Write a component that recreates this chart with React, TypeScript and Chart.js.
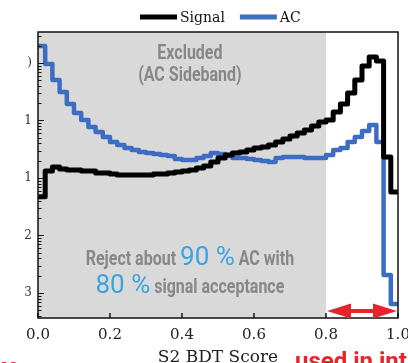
import React, { useEffect, useRef } from "react";
import { Chart, registerables } from "chart.js";

Chart.register(...registerables);

// 50 bins of width 0.02 on the BDT score
const binEdges = Array.from({ length: 51 }, (_, i) => i / 50);

const signalCounts = [
  0.0047, 0.0132, 0.0155, 0.0143, 0.0138, 0.0138, 0.0132, 0.0132, 0.0122, 0.0122,
  0.0117, 0.0113, 0.0113, 0.0113, 0.0113, 0.0113, 0.0117, 0.0117, 0.0122, 0.0127,
  0.0132, 0.0138, 0.0149, 0.0162, 0.019, 0.0223, 0.0251, 0.0272, 0.0283, 0.0307,
  0.0333, 0.0346, 0.0375, 0.0423, 0.0477, 0.0537, 0.0606, 0.0684, 0.0802, 0.0942,
  0.102, 0.141, 0.194, 0.301, 0.506, 0.887, 1.27, 1.08, 0.0232, 0.0057,
];

const acCounts = [
  1.98, 0.961, 0.506, 0.313, 0.194, 0.135, 0.102, 0.0771, 0.0631, 0.0516,
  0.0423, 0.0375, 0.0333, 0.0307, 0.0283, 0.0272, 0.0261, 0.0251, 0.0241, 0.0214,
  0.0206, 0.0206, 0.0223, 0.0241, 0.0272, 0.0261, 0.0241, 0.0223, 0.0223, 0.0214,
  0.0206, 0.0198, 0.019, 0.0223, 0.0232, 0.0232, 0.0232, 0.0223, 0.0223, 0.0223,
  0.0251, 0.0307, 0.0333, 0.0423, 0.0516, 0.0657, 0.0835, 0.0423, 0.000206, 0.0000644,
];

const seriesNames = ["Signal", "AC"];
const seriesColors = ["#000000", "#3d6dc2"];

const xTickValues = [0, 0.2, 0.4, 0.6, 0.8, 1.0];
const yTickValues = [1, 0.1, 0.01, 0.001, 0.0001];
const yTickLabels = [")", "1", "1", "2", "3"];

const sidebandRange = [0, 0.8];
const selectedRange = [0.8, 1.0];

const GREY_TEXT = "#878787";
const BLUE_TEXT = "#3aa3e0";
const RED = "#e4262c";

function histPoints(values: number[]) {
  const pts = values.map((v, i) => ({ x: binEdges[i], y: v }));
  pts.push({ x: binEdges[values.length], y: values[values.length - 1] });
  return pts;
}

type Run = { text: string; font: string; color: string; sx: number };

function runsWidth(ctx: CanvasRenderingContext2D, runs: Run[]) {
  let w = 0;
  for (const r of runs) {
    ctx.font = r.font;
    w += ctx.measureText(r.text).width * r.sx;
  }
  return w;
}

function drawRunsCentered(ctx: CanvasRenderingContext2D, runs: Run[], cx: number, baseline: number) {
  let x = cx - runsWidth(ctx, runs) / 2;
  ctx.textAlign = "left";
  ctx.textBaseline = "alphabetic";
  for (const r of runs) {
    ctx.font = r.font;
    ctx.fillStyle = r.color;
    const w = ctx.measureText(r.text).width * r.sx;
    ctx.save();
    ctx.translate(x, baseline);
    ctx.scale(r.sx, 1);
    ctx.fillText(r.text, 0, 0);
    ctx.restore();
    x += w;
  }
}

const greyFont = "bold 20px Roboto";
const blueFont = "400 26px Roboto";
const cond = 0.8;

const decorPlugin = {
  id: "decor",
  beforeDatasetsDraw(chart: any) {
    const { ctx, chartArea: a, scales } = chart;
    const x0 = scales.x.getPixelForValue(sidebandRange[0]);
    const x1 = scales.x.getPixelForValue(sidebandRange[1]);
    ctx.save();
    ctx.fillStyle = "#d9d9d9";
    ctx.fillRect(x0, a.top, x1 - x0, a.bottom - a.top);
    ctx.restore();
  },
  afterDatasetsDraw(chart: any) {
    const { ctx, scales } = chart;
    const cx = scales.x.getPixelForValue(0.422);
    ctx.save();
    drawRunsCentered(ctx, [{ text: "Excluded", font: greyFont, color: GREY_TEXT, sx: cond }], cx, 59);
    drawRunsCentered(ctx, [{ text: "(AC Sideband)", font: greyFont, color: GREY_TEXT, sx: cond }], cx, 81);
    drawRunsCentered(
      ctx,
      [
        { text: "Reject about ", font: greyFont, color: GREY_TEXT, sx: cond },
        { text: "90 %", font: blueFont, color: BLUE_TEXT, sx: 1 },
        { text: " AC with", font: greyFont, color: GREY_TEXT, sx: cond },
      ],
      cx,
      265
    );
    drawRunsCentered(
      ctx,
      [
        { text: "80 %", font: blueFont, color: BLUE_TEXT, sx: 1 },
        { text: " signal acceptance", font: greyFont, color: GREY_TEXT, sx: cond },
      ],
      cx,
      293
    );
    ctx.restore();
  },
  afterDraw(chart: any) {
    const { ctx, chartArea: a, scales } = chart;
    const { x, y } = scales;
    ctx.save();

    // frame
    ctx.strokeStyle = "#111";
    ctx.lineWidth = 1.5;
    ctx.strokeRect(a.left, a.top, a.right - a.left, a.bottom - a.top);

    // inward tick marks on the log axis (majors + minors)
    ctx.lineWidth = 1;
    ctx.strokeStyle = "#111";
    for (let d = -5; d <= 0; d++) {
      for (let m = 1; m <= 9; m++) {
        const v = m * Math.pow(10, d);
        if (v < y.min || v > y.max) continue;
        const py = Math.round(y.getPixelForValue(v)) + 0.5;
        const len = m === 1 ? 6 : 3.5;
        ctx.beginPath();
        ctx.moveTo(a.left, py);
        ctx.lineTo(a.left + len, py);
        ctx.stroke();
      }
    }
    // inward ticks on the score axis
    ctx.lineWidth = 1.5;
    for (const v of xTickValues) {
      const px = x.getPixelForValue(v);
      ctx.beginPath();
      ctx.moveTo(px, a.bottom);
      ctx.lineTo(px, a.bottom - 5);
      ctx.stroke();
    }

    // double-headed arrow over the selected region
    const xa = x.getPixelForValue(selectedRange[0]) + 1;
    const xb = x.getPixelForValue(selectedRange[1]) - 1;
    const ay = 311;
    const head = 24;
    const hh = 7.5;
    ctx.fillStyle = RED;
    ctx.fillRect(xa + head - 2, ay - 2, xb - xa - 2 * head + 4, 4);
    ctx.beginPath();
    ctx.moveTo(xa, ay);
    ctx.lineTo(xa + head, ay - hh);
    ctx.lineTo(xa + head, ay + hh);
    ctx.closePath();
    ctx.fill();
    ctx.beginPath();
    ctx.moveTo(xb, ay);
    ctx.lineTo(xb - head, ay - hh);
    ctx.lineTo(xb - head, ay + hh);
    ctx.closePath();
    ctx.fill();

    // legend
    let lx = 140;
    const ly = 17;
    ctx.font = "14px 'DejaVu Serif'";
    ctx.textBaseline = "alphabetic";
    ctx.textAlign = "left";
    chart.data.datasets.forEach((ds: any) => {
      ctx.fillStyle = ds.borderColor;
      ctx.fillRect(lx, ly - 2.5, 37, 5);
      lx += 40;
      ctx.fillStyle = "#111";
      ctx.fillText(ds.label, lx, 22);
      lx += ctx.measureText(ds.label).width + 15;
    });

    // slide captions running off the bottom edge
    ctx.fillStyle = RED;
    ctx.font = "bold 24px Roboto";
    ctx.fillText("used in int", 295, 369);
    ctx.font = "bold 18px Roboto";
    ctx.fillText("es", -1, 372);

    ctx.restore();
  },
};

export default function App() {
  const canvasRef = useRef<HTMLCanvasElement | null>(null);

  useEffect(() => {
    if (!canvasRef.current) return;
    const chart = new Chart(canvasRef.current, {
      type: "line",
      data: {
        datasets: [
          {
            label: seriesNames[0],
            data: histPoints(signalCounts),
            borderColor: seriesColors[0],
            backgroundColor: seriesColors[0],
            borderWidth: 5,
            stepped: true,
            pointRadius: 0,
            fill: false,
            borderJoinStyle: "round",
          },
          {
            label: seriesNames[1],
            data: histPoints(acCounts),
            borderColor: seriesColors[1],
            backgroundColor: seriesColors[1],
            borderWidth: 4.5,
            stepped: true,
            pointRadius: 0,
            fill: false,
            borderJoinStyle: "round",
          },
        ],
      },
      options: {
        animation: false,
        responsive: true,
        maintainAspectRatio: false,
        layout: { padding: { left: 0, right: 10, top: 32, bottom: 0 } },
        plugins: { legend: { display: false }, tooltip: { enabled: false } },
        scales: {
          x: {
            type: "linear",
            min: 0,
            max: 1,
            grid: { display: false, drawTicks: false },
            border: { display: false },
            afterBuildTicks: (s: any) => {
              s.ticks = xTickValues.map((v) => ({ value: v }));
            },
            afterFit: (s: any) => {
              s.height = 45;
              s.paddingLeft = 0;
              s.paddingRight = 0;
            },
            ticks: {
              callback: (v: any) => Number(v).toFixed(1),
              font: { family: "'DejaVu Serif'", size: 15 },
              color: "#222",
              padding: 8,
              maxRotation: 0,
              autoSkip: false,
            },
            title: {
              display: true,
              text: "S2 BDT Score",
              font: { family: "'DejaVu Serif'", size: 17 },
              color: "#222",
              padding: { top: 0, bottom: -5 },
            },
          },
          y: {
            type: "logarithmic",
            min: 3.67e-5,
            max: 3.46,
            grid: { display: false, drawTicks: false },
            border: { display: false },
            afterBuildTicks: (s: any) => {
              s.ticks = yTickValues.map((v) => ({ value: v }));
            },
            afterFit: (s: any) => {
              s.width = 38;
              s.paddingTop = 0;
              s.paddingBottom = 0;
            },
            ticks: {
              callback: (_v: any, i: number) => yTickLabels[i],
              font: { family: "'DejaVu Serif'", size: 12 },
              color: "#333",
              padding: 6,
              autoSkip: false,
            },
          },
        },
      },
      plugins: [decorPlugin],
    } as any);
    return () => chart.destroy();
  }, []);

  return (
    <div style={{ position: "fixed", left: 0, top: 0, width: 408, height: 363, background: "#fff" }}>
      <canvas ref={canvasRef} />
    </div>
  );
}
